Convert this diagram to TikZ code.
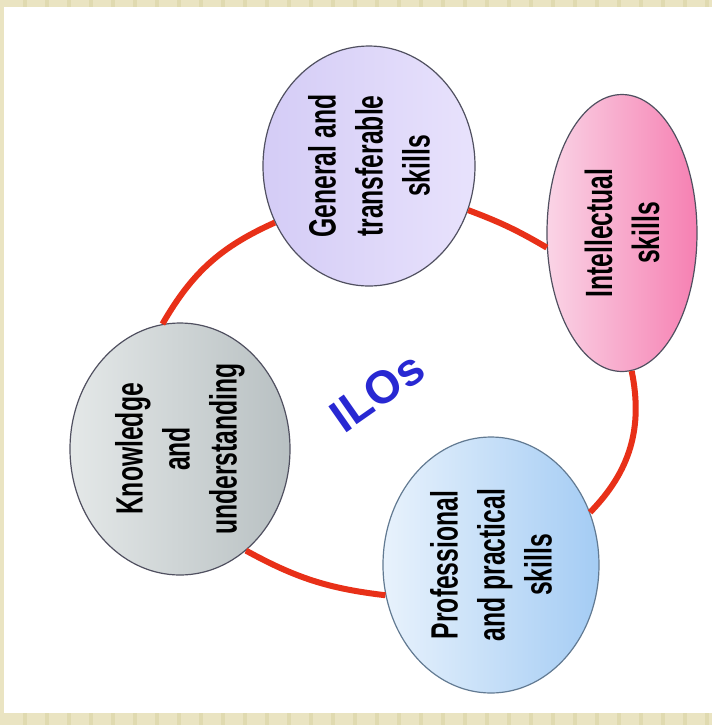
\documentclass[tikz,border=0pt]{standalone}
\usepackage{fontspec}
\setmainfont{Liberation Sans}
\newfontfamily\narrowfont[FakeStretch=0.65]{Liberation Sans}
\usepackage{tikz}
\usetikzlibrary{shapes.geometric}

\definecolor{band}{RGB}{234,228,194}
\definecolor{bandline}{RGB}{224,218,176}
\definecolor{ringred}{RGB}{232,48,24}
\definecolor{skillline}{RGB}{80,80,96}
\definecolor{genleft}{RGB}{212,204,246}
\definecolor{genright}{RGB}{232,226,252}
\definecolor{intelleft}{RGB}{250,212,230}
\definecolor{intelright}{RGB}{246,128,178}
\definecolor{knowleft}{RGB}{228,232,232}
\definecolor{knowright}{RGB}{184,192,194}
\definecolor{profleft}{RGB}{232,242,252}
\definecolor{profright}{RGB}{164,204,244}
\definecolor{iloblue}{RGB}{40,40,210}

\tikzset{
  skill/.style={ellipse, rotate=90, inner sep=0pt, draw=skillline, line width=0.6pt,
    align=center, font=\narrowfont\bfseries\fontsize{19}{23.5}\selectfont},
  ring/.style={draw=ringred, line width=3pt}
}

\begin{document}
\begin{tikzpicture}[x=0.5pt,y=-0.5pt]
\useasboundingbox (0,0) rectangle (712,725);
\fill[band] (0,0) rectangle (712,725);
\foreach \x in {23,45,...,705} {
  \fill[bandline] (\x,0) rectangle (\x+4,7);
  \fill[bandline] (\x,713) rectangle (\x+4,725);
}
\fill[white] (4,7) rectangle (712,713);

\coordinate (g) at (369,166);
\coordinate (i) at (622,233);
\coordinate (k) at (180,449);
\coordinate (p) at (491,565);
\coordinate (o) at (377,392);

\node[skill, minimum width=120pt, minimum height=106pt,
  left color=genleft, right color=genright] (gen) at (g) {General and\\transferable\\skills};
\node[skill, minimum width=138.5pt, minimum height=75pt,
  left color=intelleft, right color=intelright] (intel) at (i) {Intellectual\\skills};
\node[skill, minimum width=126pt, minimum height=110pt,
  left color=knowleft, right color=knowright] (know) at (k) {Knowledge\\and\\understanding};
\node[skill, minimum width=128pt, minimum height=108pt, draw=profright!60!black,
  left color=profleft, right color=profright] (prof) at (p) {Professional\\and practical\\skills};
\node[rotate=35, text=iloblue, font=\bfseries\fontsize{23}{26}\selectfont] (ilo) at (o) {ILOs};

\draw[ring] (gen.121) to[bend right=18] (know.8);
\draw[ring] (gen.246.5) to[bend left=5] (intel.101);
\draw[ring] (intel.184.5) to[bend left=28] (prof.-62.3);
\draw[ring] (prof.106.8) to[bend left=11] (know.213.3);
\end{tikzpicture}
\end{document}
